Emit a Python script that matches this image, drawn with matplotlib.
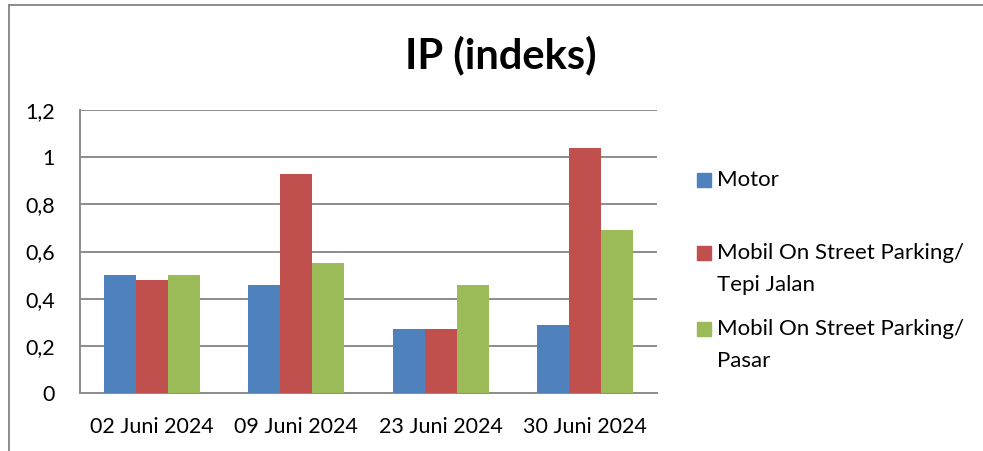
import matplotlib
matplotlib.use("Agg")
import matplotlib.pyplot as plt
import numpy as np
from matplotlib.patches import Rectangle
from matplotlib.lines import Line2D

plt.rcParams['font.family'] = ['Lato', 'DejaVu Sans']

categories = ["02 Juni 2024", "09 Juni 2024", "23 Juni 2024", "30 Juni 2024"]
series_names = ["Motor", "Mobil On Street Parking/\nTepi Jalan", "Mobil On Street Parking/\nPasar"]
motor = [0.50, 0.46, 0.27, 0.29]
mobil_tepi = [0.48, 0.93, 0.27, 1.04]
mobil_pasar = [0.50, 0.55, 0.46, 0.69]
yticks = [0, 0.2, 0.4, 0.6, 0.8, 1.0, 1.2]
ytick_labels = ["0", "0,2", "0,4", "0,6", "0,8", "1", "1,2"]
colors = ["#4F81BD", "#C0504D", "#9BBB59"]

W, H = 983, 451
fig = plt.figure(figsize=(W / 100, H / 100), dpi=100)
ax = fig.add_axes([80 / W, 1 - 393 / H, (657 - 80) / W, (393 - 110) / H])

x = np.arange(len(categories))
bw = 1 / 4.5
for i, (vals, c) in enumerate(zip([motor, mobil_tepi, mobil_pasar], colors)):
    ax.bar(x + (i - 1) * bw, vals, width=bw, color=c, zorder=3, linewidth=0)

ax.set_xlim(-0.5, len(categories) - 0.5)
ax.set_ylim(0, 1.2)
ax.set_yticks(yticks)
ax.set_yticklabels(ytick_labels, fontsize=15.5)
ax.set_xticks(x)
ax.set_xticklabels(categories, fontsize=15.5)
ax.tick_params(axis='x', length=0, pad=17)
ax.tick_params(axis='y', length=0, pad=18)
ax.yaxis.grid(True, color="#8c8c8c", linewidth=1.4, zorder=0)
for s in ['top', 'right']:
    ax.spines[s].set_visible(False)
for s in ['left', 'bottom']:
    ax.spines[s].set_color("#8c8c8c")
    ax.spines[s].set_linewidth(1.4)

fig.text(501 / W, 1 - 55 / H, "IP (indeks)", ha='center', va='center', fontsize=30, fontweight='bold')

# chart border (top and left)
fig.add_artist(Line2D([9 / W, 1], [1 - 5 / H, 1 - 5 / H], color="#8c8c8c", linewidth=1.4, transform=fig.transFigure))
fig.add_artist(Line2D([9 / W, 9 / W], [0, 1 - 5 / H], color="#8c8c8c", linewidth=1.4, transform=fig.transFigure))

# legend
legend_y = [180, 253, 329]
for name, c, ly in zip(series_names, colors, legend_y):
    fig.add_artist(Rectangle((697 / W, 1 - (ly + 7) / H), 14 / W, 14 / H, color=c, transform=fig.transFigure))
    for j, line in enumerate(name.split('\n')):
        fig.text(717 / W, 1 - (ly + 32 * j) / H, line, ha='left', va='center', fontsize=16)

fig.savefig("out.png", dpi=100)
